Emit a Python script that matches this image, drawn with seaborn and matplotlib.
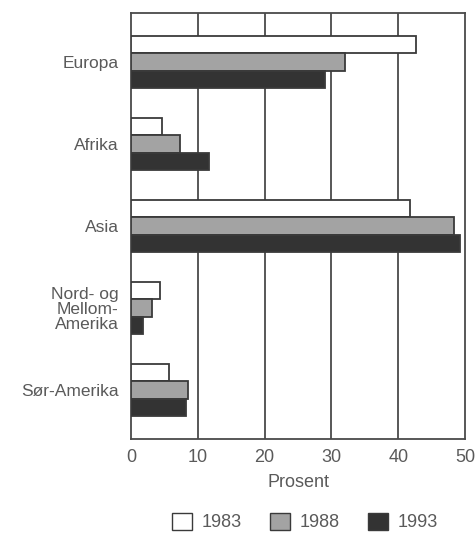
import pandas as pd
import matplotlib.pyplot as plt
import seaborn as sns
from matplotlib.patches import Patch
from matplotlib.ticker import MultipleLocator

# data (prosent)
regioner = ['Europa', 'Afrika', 'Asia', 'Nord- og\nMellom-\nAmerika', 'Sør-Amerika']
aar = ['1983', '1988', '1993']
v1983 = [42.6, 4.7, 41.8, 4.4, 5.7]
v1988 = [32.0, 7.3, 48.4, 3.1, 8.6]
v1993 = [29.1, 11.7, 49.3, 1.8, 8.2]

df = pd.DataFrame({
    'Region': regioner * 3,
    'Aar': [a for a in aar for _ in regioner],
    'Prosent': v1983 + v1988 + v1993,
})

sns.set_style('white')
plt.rcParams['font.family'] = ['Liberation Sans', 'DejaVu Sans']

farger = {'1983': '#ffffff', '1988': '#a3a3a3', '1993': '#333333'}
kant = '#3a3a3a'
tekst = '#5a5a5a'

fig = plt.figure(figsize=(4.75, 5.42), dpi=100)
ax = fig.add_axes([0.2758, 0.19, 0.7032, 0.786])

sns.barplot(data=df, y='Region', x='Prosent', hue='Aar', order=regioner,
            hue_order=aar, palette=farger, orient='h', width=0.64,
            edgecolor=kant, linewidth=1.3, legend=False, ax=ax, zorder=3)

ax.set_xlim(0, 50)
ax.set_ylim(4.6, -0.6)
ax.xaxis.set_major_locator(MultipleLocator(10))
ax.xaxis.set_minor_locator(MultipleLocator(5))
for x in [10, 20, 30, 40]:
    ax.axvline(x, color='#4a4a4a', lw=1.3, zorder=1)

for s in ax.spines.values():
    s.set_color('#4a4a4a')
    s.set_linewidth(1.3)

ax.tick_params(axis='x', which='both', direction='in', length=3, color='#4a4a4a',
               labelsize=13, labelcolor=tekst, pad=7)
ax.tick_params(axis='x', which='major', length=0)
ax.tick_params(axis='y', length=0, labelsize=12.5, labelcolor=tekst, pad=9)
for lab in ax.get_yticklabels():
    lab.set_horizontalalignment('right')
    lab.set_linespacing(1.0)

ax.set_ylabel('')
ax.set_xlabel('Prosent', fontsize=13, color=tekst, labelpad=6)

handles = [Patch(facecolor=farger[a], edgecolor=kant, linewidth=1.0, label=a) for a in aar]
fig.legend(handles=handles, loc='center', bbox_to_anchor=(0.642, 0.037), ncol=3,
           frameon=False, fontsize=13, handlelength=1.1, handleheight=1.1,
           handletextpad=0.5, columnspacing=1.6, labelcolor=tekst)

fig.savefig('out.png', dpi=100, facecolor='white')
